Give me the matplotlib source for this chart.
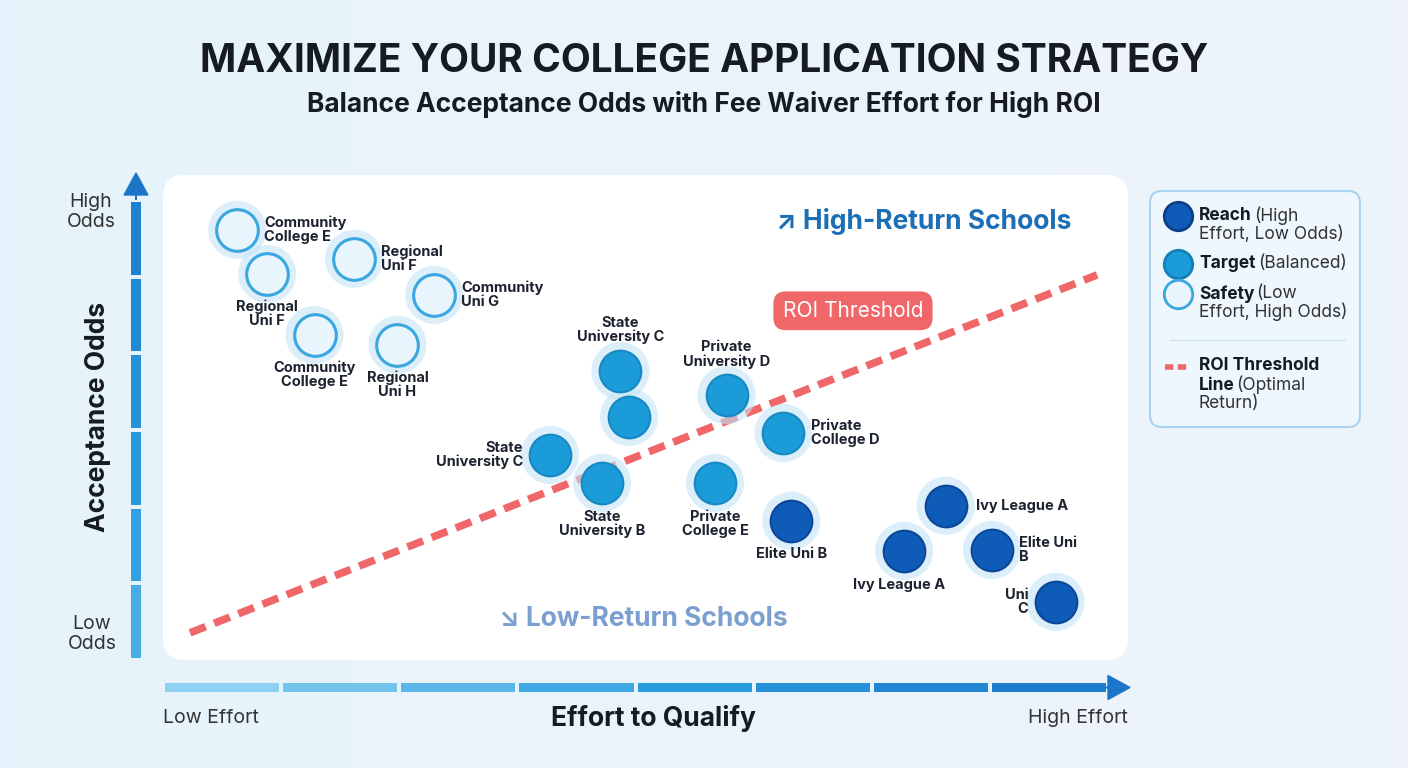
import matplotlib.pyplot as plt
import numpy as np
from matplotlib.colors import LinearSegmentedColormap
from matplotlib.patches import FancyBboxPatch, FancyArrow, Rectangle

# data (0-100 scale: effort, odds)
safety_names = ["Community\nCollege E", "Regional\nUni F", "Regional\nUni F", "Community\nUni G", "Community\nCollege E", "Regional\nUni H"]
safety_x = [7.7, 10.8, 19.8, 28.1, 15.7, 24.3]
safety_y = [88.7, 79.6, 82.7, 75.3, 67.0, 65.0]

target_names = ["State\nUniversity C", "", "State\nUniversity C", "State\nUniversity B", "Private\nUniversity D", "Private\nCollege D", "Private\nCollege E"]
target_x = [47.4, 48.3, 40.1, 45.5, 58.4, 64.3, 57.2]
target_y = [59.6, 50.1, 42.3, 36.5, 54.6, 46.8, 36.5]

reach_names = ["Elite Uni B", "Ivy League A", "Ivy League A", "Elite Uni\nB", "Uni\nC"]
reach_x = [65.1, 81.1, 76.8, 85.9, 92.5]
reach_y = [28.7, 31.8, 22.5, 22.7, 12.0]

threshold_x = [2.8, 96.8]
threshold_y = [5.6, 79.4]

# label placement: (dx, dy, ha, va)
safety_lab = [(2.8, 0, "left", "center"), (0, -5.3, "center", "top"), (2.8, 0, "left", "center"),
              (2.8, 0, "left", "center"), (0, -5.3, "center", "top"), (0, -5.3, "center", "top")]
target_lab = [(0, 5.5, "center", "bottom"), (0, 0, "center", "center"), (-2.8, 0, "right", "center"),
              (0, -5.5, "center", "top"), (0, 5.5, "center", "bottom"), (2.8, 0, "left", "center"),
              (0, -5.5, "center", "top")]
reach_lab = [(0, -5.5, "center", "top"), (3.2, 0, "left", "center"), (-0.5, -5.5, "center", "top"),
             (2.8, 0, "left", "center"), (-2.8, 0, "right", "center")]

REACH = "#0f5cb8"
TARGET = "#1b9bd8"
SAFE_EDGE = "#3aa7e0"
SAFE_FACE = "#e9f5fc"
RED = "#f0676a"
TXT = "#151a24"

fig = plt.figure(figsize=(14.08, 7.68), dpi=100)
fig.patch.set_facecolor("#f5f8fc")
bg = fig.add_axes([0, 0, 1, 1], zorder=-10)
bg.set_xlim(0, 1408)
bg.set_ylim(768, 0)
bg.axis("off")
grad = np.linspace(0, 1, 256).reshape(1, -1)
bg.imshow(grad, extent=[0, 1408, 768, 0], cmap=LinearSegmentedColormap.from_list("g", ["#e6f3fc", "#eef3fb"]), aspect="auto")
bg.add_patch(FancyBboxPatch((163, 175), 965, 485, boxstyle="round,pad=0,rounding_size=22",
                            fc="white", ec="none"))
bg.add_patch(FancyBboxPatch((1150, 191), 210, 236, boxstyle="round,pad=0,rounding_size=12",
                            fc="#eef7fd", ec="#a9d4f0", lw=1.5))

bg.text(704, 62, "MAXIMIZE YOUR COLLEGE APPLICATION STRATEGY", ha="center", va="center",
        fontsize=28, fontweight="bold", color=TXT, family="Inter")
bg.text(704, 104, "Balance Acceptance Odds with Fee Waiver Effort for High ROI", ha="center", va="center",
        fontsize=19, fontweight="bold", color=TXT, family="Inter")

bar_cmap = LinearSegmentedColormap.from_list("bar", ["#8ed0f2", "#2a9de0", "#1b76c9"])

# y arrow segments
segs = np.linspace(660, 200, 7)
for i in range(6):
    bg.add_patch(Rectangle((131, segs[i + 1] + 2), 10, segs[i] - segs[i + 1] - 4,
                           color=bar_cmap(0.35 + 0.1 * i), lw=0))
bg.add_patch(FancyArrow(136, 200, 0, -5, width=0, head_width=24, head_length=22,
                        color=bar_cmap(1.0), length_includes_head=False))
bg.text(91, 212, "High\nOdds", ha="center", va="center", fontsize=14, color="#333", family="Inter", linespacing=1.1)
bg.text(92, 634, "Low\nOdds", ha="center", va="center", fontsize=14, color="#333", family="Inter", linespacing=1.1)
bg.text(98, 417, "Acceptance Odds", ha="center", va="center", rotation=90, fontsize=19,
        fontweight="bold", color=TXT, family="Inter")

# x arrow segments
xs = np.linspace(163, 1108, 9)
for i in range(8):
    bg.add_patch(Rectangle((xs[i] + 2, 683), xs[i + 1] - xs[i] - 4, 9,
                           color=bar_cmap(0.0 + 0.13 * i), lw=0))
bg.add_patch(FancyArrow(1106, 687.5, 2, 0, width=0, head_width=24, head_length=22,
                        color=bar_cmap(1.0), length_includes_head=False))
bg.text(163, 718, "Low Effort", ha="left", va="center", fontsize=14, color="#333", family="Inter")
bg.text(1128, 718, "High Effort", ha="right", va="center", fontsize=14, color="#333", family="Inter")
bg.text(653, 719, "Effort to Qualify", ha="center", va="center", fontsize=19,
        fontweight="bold", color=TXT, family="Inter")

# legend
def leg_dot(y, fc, ec):
    bg.scatter([1178], [y], s=420, c=fc, edgecolors=ec, linewidths=2, zorder=5)

leg_dot(216, REACH, "#0a3f88")
leg_dot(264, TARGET, "#137fb6")
leg_dot(294, SAFE_FACE, SAFE_EDGE)
bg.text(1199, 216, "Reach", fontweight="bold", fontsize=12.5, va="center", color=TXT, family="Inter")
bg.text(1254, 216, "(High", fontsize=12.5, va="center", color="#333", family="Inter")
bg.text(1199, 234, "Effort, Low Odds)", fontsize=12.5, va="center", color="#333", family="Inter")
bg.text(1199, 264, "Target", fontweight="bold", fontsize=12.5, va="center", color=TXT, family="Inter")
bg.text(1258, 264, "(Balanced)", fontsize=12.5, va="center", color="#333", family="Inter")
bg.text(1199, 294, "Safety", fontweight="bold", fontsize=12.5, va="center", color=TXT, family="Inter")
bg.text(1256, 294, "(Low", fontsize=12.5, va="center", color="#333", family="Inter")
bg.text(1199, 312, "Effort, High Odds)", fontsize=12.5, va="center", color="#333", family="Inter")
bg.plot([1170, 1345], [340, 340], color="#cfe3f2", lw=1)
bg.plot([1165, 1190], [367, 367], color=RED, lw=4, ls=(0, (1.5, 0.8)), solid_capstyle="round")
bg.text(1199, 366, "ROI Threshold", fontweight="bold", fontsize=12.5, va="center", color=TXT, family="Inter")
bg.text(1199, 385, "Line", fontweight="bold", fontsize=12.5, va="center", color=TXT, family="Inter")
bg.text(1236, 385, "(Optimal", fontsize=12.5, va="center", color="#333", family="Inter")
bg.text(1199, 404, "Return)", fontsize=12.5, va="center", color="#333", family="Inter")

# main axes
ax = fig.add_axes([163 / 1408, 108 / 768, 965 / 1408, 485 / 768])
ax.set_xlim(0, 100)
ax.set_ylim(0, 100)
ax.patch.set_alpha(0)
ax.axis("off")

ax.plot(threshold_x, threshold_y, color=RED, lw=5.5, ls=(0, (2.2, 1.2)), zorder=2)


def draw(xv, yv, names, labs, fc, ec, lw):
    ax.scatter(xv, yv, s=1750, c="#c4e4f6", alpha=0.6, edgecolors="none", zorder=3)
    ax.scatter(xv, yv, s=900, c=fc, edgecolors=ec, linewidths=lw, zorder=4)
    for x, y, n, (dx, dy, ha, va) in zip(xv, yv, names, labs):
        if n:
            ax.text(x + dx, y + dy, n, ha=ha, va=va, fontsize=10.5, fontweight="bold",
                    color="#1d2330", linespacing=1.0, zorder=6, family="Inter")


draw(safety_x, safety_y, safety_names, safety_lab, SAFE_FACE, SAFE_EDGE, 2.2)
draw(target_x, target_y, target_names, target_lab, TARGET, "#1689c2", 1.5)
draw(reach_x, reach_y, reach_names, reach_lab, REACH, "#0a4797", 1.5)

ax.text(63.5, 90.5, "↗ High-Return Schools", ha="left", va="center", fontsize=19,
        fontweight="bold", color="#1d6fb5", family=["Inter", "DejaVu Sans"])
ax.text(34.8, 8.5, "↘ Low-Return Schools", ha="left", va="center", fontsize=19,
        fontweight="bold", color="#7a9fd0", family=["Inter", "DejaVu Sans"])
ax.text(71.5, 72, "ROI Threshold", ha="center", va="center", fontsize=15, color="white",
        family="Inter", zorder=7,
        bbox=dict(boxstyle="round,pad=0.45,rounding_size=0.6", fc=RED, ec="none"))

fig.savefig("out.png", dpi=100)
